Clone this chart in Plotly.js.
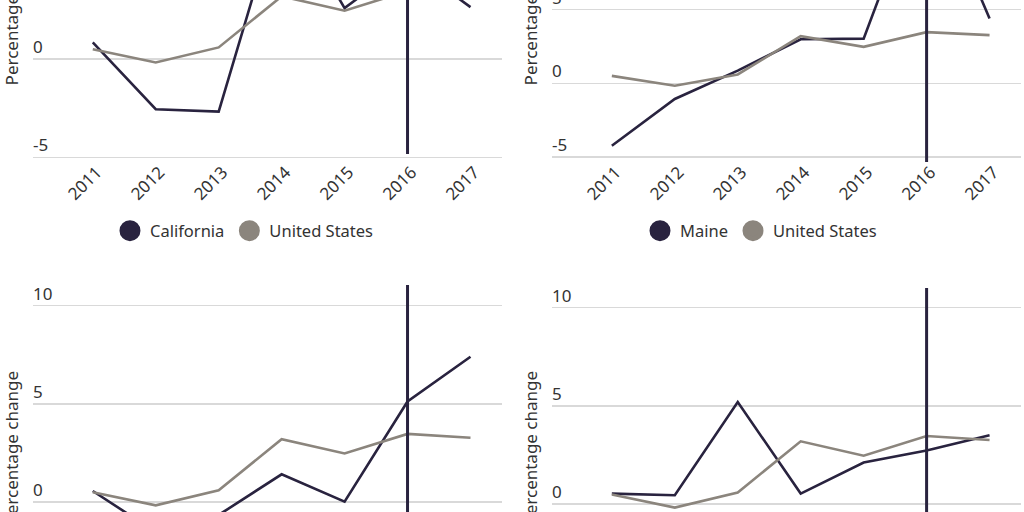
<!DOCTYPE html>
<html>
<head>
<meta charset="utf-8">
<script src="https://cdn.plot.ly/plotly-3.0.1.min.js"></script>
<style>
  html, body { margin: 0; padding: 0; overflow: hidden; background: #fff; }
  #chart { position: absolute; left: 0; top: -160px; width: 1024px; height: 900px; }
</style>
</head>
<body>
<div id="chart"></div>
<script>
// annual percentage change
const years = [2011, 2012, 2013, 2014, 2015, 2016, 2017];
const usChange = [0.5, -0.17, 0.6, 3.2, 2.47, 3.47, 3.27];
const californiaChange = [0.85, -2.55, -2.67, 8.1, 2.6, 5.0, 2.65];
const maineChange = [-4.24, -1.07, 0.86, 2.99, 3.03, 14.4, 4.4];
// lower panels: legends are outside the picture, names unknown
const stateCChange = [0.56, -1.53, -0.66, 1.41, 0.02, 5.12, 7.4];
const stateDChange = [0.54, 0.46, 5.2, 0.54, 2.12, 2.73, 3.51];
const panelNames = ['California', 'Maine', 'State C', 'State D'];
const yTickVals = [-5, 0, 5, 10, 15];
const yTickText = ['-5', '0', '5', '10', '15'];
const markYear = 2016;

const DARK = '#29233f';
const GREY = '#8b857d';
const FONT = '"Noto Sans", "Open Sans", sans-serif';

function lineTrace(y, color, n, name) {
    let sfx = n === 1 ? '' : n;
    return {
        x: years, y: y, name: name, mode: 'lines', type: 'scatter',
        line: { color: color, width: 2.6 },
        xaxis: 'x' + sfx, yaxis: 'y' + sfx,
        showlegend: false, hoverinfo: 'x+y+name'
    };
}

function legendDot(color, name, legend) {
    return {
        x: [null], y: [null], name: name, mode: 'markers', type: 'scatter',
        marker: { color: color, size: 16, line: { color: color, width: 5 } },
        legend: legend, hoverinfo: 'skip'
    };
}

const stateSeries = [californiaChange, maineChange, stateCChange, stateDChange];
let traces = [];
stateSeries.forEach((s, i) => {
    traces.push(lineTrace(s, DARK, i + 1, panelNames[i]));
    traces.push(lineTrace(usChange, GREY, i + 1, 'United States'));
});
traces.push(legendDot(DARK, 'California', 'legend'));
traces.push(legendDot(GREY, 'United States', 'legend'));
traces.push(legendDot(DARK, 'Maine', 'legend2'));
traces.push(legendDot(GREY, 'United States', 'legend2'));

function xAxis(domain, anchor) {
    return {
        domain: domain, anchor: anchor, range: [2010.05, 2017.5],
        tickvals: years, tickangle: -45, showgrid: false, zeroline: false,
        showline: false, ticks: '', automargin: false,
        ticklabelshift: 4, ticklabelstandoff: -4,
        tickfont: { family: FONT, size: 17, color: '#333' }
    };
}

function yAxis(domain, anchor, range) {
    return {
        domain: domain, anchor: anchor, range: range,
        tickvals: yTickVals, ticktext: yTickText,
        showgrid: true, gridcolor: '#d9d9d9', gridwidth: 1.5, zeroline: false,
        showline: false, ticks: '', automargin: false,
        ticklabelposition: 'inside', ticklabelshift: -12, ticklabelstandoff: -3,
        tickfont: { family: FONT, size: 17, color: '#333' },
        title: { text: 'Percentage change', standoff: 10, font: { family: FONT, size: 17, color: '#333' } }
    };
}

const colLeft = [0.0322, 0.4902], colRight = [0.5391, 0.9971];
const rowTop = [0.6422, 0.9833], rowBottom = [0.1386, 0.5109];

// vertical marker at the chosen year, span in data units per panel
const markSpans = [[-4.83, 10.4], [-5.42, 15.5], [-5.0, 11.06], [-5.0, 11.0]];
let shapes = markSpans.map((span, i) => {
    let sfx = i === 0 ? '' : i + 1;
    return {
        type: 'line', xref: 'x' + sfx, yref: 'y' + sfx,
        x0: markYear, x1: markYear, y0: span[0], y1: span[1],
        line: { color: DARK, width: 3 }
    };
});

const legendBase = {
    orientation: 'h', yanchor: 'middle', xanchor: 'left',
    font: { family: FONT, size: 16.5, color: '#333' }, bgcolor: 'rgba(0,0,0,0)'
};

const layout = {
    margin: { l: 0, r: 0, t: 0, b: 0 },
    paper_bgcolor: '#fff', plot_bgcolor: '#fff',
    xaxis: xAxis(colLeft, 'y'),
    yaxis: yAxis(rowTop, 'x', [-5.24, 10.4]),
    xaxis2: xAxis(colRight, 'y2'),
    yaxis2: yAxis(rowTop, 'x2', [-5.35, 15.5]),
    xaxis3: xAxis(colLeft, 'y3'),
    yaxis3: yAxis(rowBottom, 'x3', [-5.77, 11.3]),
    xaxis4: xAxis(colRight, 'y4'),
    yaxis4: yAxis(rowBottom, 'x4', [-5.65, 11.4]),
    legend: Object.assign({ x: 0.1074, y: 0.5656 }, legendBase),
    legend2: Object.assign({ x: 0.625, y: 0.5656 }, legendBase),
    shapes: shapes
};

Plotly.newPlot('chart', traces, layout, { displayModeBar: false, staticPlot: true });
</script>
</body>
</html>
